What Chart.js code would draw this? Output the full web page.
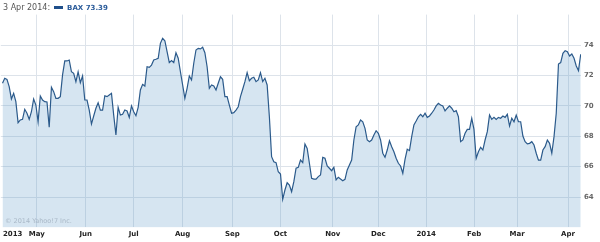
<!DOCTYPE html>
<html>
<head>
<meta charset="utf-8">
<script src="https://cdn.jsdelivr.net/npm/chart.js@4"></script>
<style>
  body { margin: 0; background: #fff; }
  #wrap { position: relative; width: 600px; height: 242px; }
  #head { position: absolute; left: 3px; top: 3px; font: 8px "DejaVu Sans"; color: #555; white-space: nowrap; line-height: 10px; }
  #head .mark { display: inline-block; width: 9px; height: 3px; background: #1f4f8a; vertical-align: middle; margin: 0 4px 1px 4px; }
  #head .tick { color: #2a5b9a; font: bold 7px "DejaVu Sans"; }
  #copy { position: absolute; left: 5px; top: 217px; font: 6.5px "DejaVu Sans"; color: #a9b8c7; }
</style>
</head>
<body>
<div id="wrap">
  <canvas id="c" width="600" height="242"></canvas>
  <div id="head"></div>
  <div id="copy">© 2014 Yahoo!7 Inc.</div>
</div>
<script>
const ticker = 'BAX';
const lastDate = '3 Apr 2014';

// closing prices, one per trading day
const values = [
  71.48, 71.81, 71.74, 71.26, 70.45, 70.82, 70.27, 68.89, 69.07, 69.11,
  69.77, 69.51, 69.11, 69.61, 70.45, 70.05, 68.95, 70.64, 70.38, 70.27,
  70.25, 68.59, 71.22, 70.93, 70.49, 70.49, 70.6, 72.03, 72.95, 72.95,
  73.01, 72.24, 72.14, 71.59, 72.24, 71.52, 71.96, 70.38, 70.38, 69.72,
  68.8, 69.33, 69.84, 70.2, 69.72, 69.72, 70.66, 70.6, 70.71, 70.82,
  69.39, 68.08, 69.9, 69.39, 69.44, 69.72, 69.66, 69.24, 69.99, 69.61,
  69.35, 69.9, 71.04, 71.41, 71.3, 72.57, 72.53, 72.68, 73.01, 73.06, 73.13,
  74.11, 74.44, 74.28, 73.56, 72.84, 72.97, 72.84, 73.49, 73.13, 72.24, 71.37,
  70.49, 71.15, 71.96, 71.7, 72.8, 73.67, 73.78, 73.74, 73.85, 73.49,
  72.57, 71.15, 71.37, 71.3, 71.04, 71.48, 71.91, 71.74, 70.6, 70.6,
  70.05, 69.51, 69.55, 69.72, 69.94, 70.6, 71.09, 71.59, 72.18, 71.65, 71.81,
  71.88, 71.59, 71.7, 72.18, 71.59, 71.81, 71.37, 69.28, 66.65, 66.32,
  66.26, 65.66, 65.51, 63.85, 64.46, 64.94, 64.79, 64.35, 65.01, 65.89,
  65.95, 66.43, 66.26, 67.49, 67.2, 66.22, 65.23, 65.18, 65.18, 65.34,
  65.45, 66.61, 66.55, 66.04, 65.89, 65.73, 65.95, 65.12, 65.3, 65.18,
  65.07, 65.16, 65.78, 66.1, 66.43, 67.75, 68.62, 68.74, 69.07, 68.95, 68.52,
  67.75, 67.64, 67.75, 68.08, 68.36, 68.19, 67.75, 66.88, 66.61, 67.09,
  67.7, 67.31, 66.98, 66.55, 66.22, 66.04, 65.56, 66.48, 67.14, 67.05,
  67.97, 68.74, 69.0, 69.28, 69.44, 69.28, 69.51, 69.24, 69.33, 69.51,
  69.72, 69.99, 70.16, 70.05, 69.99, 69.66, 69.84, 69.99, 69.84, 69.61,
  69.68, 69.28, 67.64, 67.75, 68.19, 68.45, 68.45, 69.18, 68.45,
  66.55, 66.98, 67.27, 67.09, 67.75, 68.3, 69.39, 69.11, 69.24,
  69.11, 69.24, 69.18, 69.33, 69.24, 69.44, 68.67, 69.18, 68.95, 69.39,
  68.95, 68.95, 68.01, 67.64, 67.49, 67.53, 67.64, 67.42, 66.88, 66.43,
  66.43, 67.09, 67.31, 67.75, 67.53, 66.88, 67.97, 69.51, 72.75,
  72.84, 73.45, 73.63, 73.56, 73.28, 73.41, 73.13, 72.62, 72.31,
  73.39
];

// month starts, as trading-day index
const monthLabels = ['2013', 'May', 'Jun', 'Jul', 'Aug', 'Sep', 'Oct', 'Nov', 'Dec', '2014', 'Feb', 'Mar', 'Apr'];
const monthPos = [4.6, 15.4, 37.4, 59.0, 81.0, 103.4, 125.0, 148.5, 169.0, 190.5, 212.1, 231.4, 254.3];
const yTicks = [64, 66, 68, 70, 72, 74];

document.getElementById('head').innerHTML =
  lastDate + ':<span class="mark"></span><span class="tick">' + ticker + ' ' + values[values.length - 1].toFixed(2) + '</span>';

const tickFont = { family: 'DejaVu Sans', size: 7, weight: 'bold' };

new Chart(document.getElementById('c'), {
  type: 'line',
  data: {
    datasets: [{
      label: ticker,
      data: values.map((v, i) => ({ x: i, y: v })),
      borderColor: '#2b5a8b',
      borderWidth: 1.2,
      backgroundColor: 'rgba(91,151,199,0.25)',
      fill: 'start',
      pointRadius: 0,
      tension: 0
    }]
  },
  options: {
    responsive: false,
    animation: false,
    layout: { padding: { top: 14.6, left: 0, right: 0, bottom: 0 } },
    plugins: { legend: { display: false }, tooltip: { enabled: false } },
    scales: {
      x: {
        type: 'linear',
        min: -0.76,
        max: 260.13,
        afterBuildTicks: s => { s.ticks = monthPos.map(v => ({ value: v })); },
        afterFit: s => { s.height = 14.6; },
        grid: { color: ctx => ctx.index === 0 ? 'rgba(0,0,0,0)' : '#dde3ea', drawTicks: false },
        border: { display: false },
        ticks: {
          callback: (v, i) => monthLabels[i],
          autoSkip: false, maxRotation: 0, padding: 3,
          font: tickFont, color: '#222'
        }
      },
      y: {
        position: 'right',
        min: 62,
        max: 76,
        afterBuildTicks: s => { s.ticks = yTicks.map(v => ({ value: v })); },
        afterFit: s => { s.width = 19; },
        grid: { color: '#dde3ea', drawTicks: false },
        border: { display: false },
        ticks: { padding: 3, font: tickFont, color: '#666' }
      }
    }
  }
});
</script>
</body>
</html>
